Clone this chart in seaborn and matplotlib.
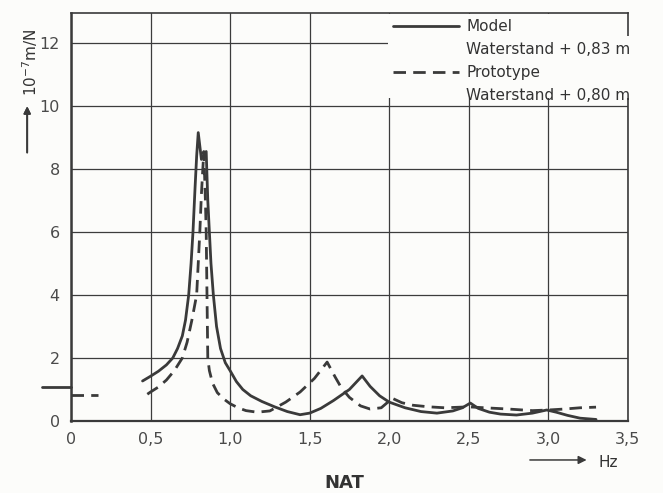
"""
Frequentiekarakteristiek model vs prototype (NAT).
"""

import numpy as np
import matplotlib.pyplot as plt
from matplotlib.lines import Line2D
from matplotlib.patches import Rectangle
import seaborn as sns

# --- data ---
model_f = [0.45, 0.50, 0.55, 0.60, 0.64, 0.67, 0.70, 0.72, 0.74, 0.755, 0.767,
           0.78, 0.79, 0.80, 0.82, 0.85, 0.86, 0.87, 0.88, 0.895, 0.915, 0.94,
           0.97, 1.00, 1.04, 1.08, 1.13, 1.20, 1.28, 1.36, 1.44, 1.50, 1.57,
           1.65, 1.75, 1.83, 1.88, 1.94, 2.00, 2.10, 2.20, 2.30, 2.40, 2.46,
           2.51, 2.56, 2.63, 2.70, 2.80, 2.90, 2.99, 3.05, 3.12, 3.20, 3.30]
model_r = [1.27, 1.42, 1.58, 1.78, 2.00, 2.30, 2.70, 3.20, 4.00, 5.00, 6.00,
           7.40, 8.40, 9.15, 8.30, 8.55, 7.00, 6.00, 5.00, 4.00, 3.00, 2.30,
           1.85, 1.60, 1.25, 1.00, 0.80, 0.62, 0.45, 0.30, 0.20, 0.25, 0.40,
           0.65, 1.00, 1.43, 1.10, 0.80, 0.60, 0.42, 0.30, 0.25, 0.32, 0.42,
           0.57, 0.40, 0.28, 0.22, 0.19, 0.25, 0.35, 0.28, 0.18, 0.09, 0.05]

proto_f = [0.48, 0.50, 0.55, 0.60, 0.65, 0.70, 0.73, 0.76, 0.79, 0.80, 0.81,
           0.82, 0.835, 0.845, 0.85, 0.855, 0.86, 0.87, 0.89, 0.92, 0.96, 1.00,
           1.05, 1.10, 1.17, 1.25, 1.35, 1.44, 1.53, 1.61, 1.66, 1.70, 1.75,
           1.82, 1.88, 1.95, 2.02, 2.08, 2.15, 2.25, 2.35, 2.50, 2.60, 2.75,
           2.90, 3.00, 3.10, 3.20, 3.30]
proto_r = [0.85, 0.92, 1.08, 1.30, 1.60, 2.00, 2.50, 3.20, 4.00, 5.00, 6.00,
           7.20, 8.55, 7.00, 6.00, 4.00, 2.00, 1.60, 1.20, 0.90, 0.70, 0.55,
           0.42, 0.33, 0.28, 0.32, 0.60, 0.92, 1.35, 1.87, 1.40, 1.05, 0.75,
           0.48, 0.38, 0.42, 0.72, 0.58, 0.50, 0.45, 0.42, 0.45, 0.42, 0.38,
           0.33, 0.35, 0.38, 0.42, 0.44]

# statische waarden links van de as
static_model_f = [-0.18, 0.0]
static_model_r = [1.08, 1.08]
static_proto_f = [0.0, 0.17]
static_proto_r = [0.83, 0.83]

x_ticks = [0, 0.5, 1.0, 1.5, 2.0, 2.5, 3.0, 3.5]
x_labels = ["0", "0,5", "1,0", "1,5", "2,0", "2,5", "3,0", "3,5"]
y_ticks = [0, 2, 4, 6, 8, 10, 12]

ink = "#3a3a3a"
paper = "#fcfcfa"

sns.set_style("white")
plt.rcParams["font.family"] = ["DejaVu Sans"]

fig = plt.figure(figsize=(6.63, 4.93), dpi=100, facecolor=paper)
ax = fig.add_axes([0.107, 0.146, 0.840, 0.828], facecolor=paper)

dash = (4.5, 2.6)
lw = 2.0
sns.lineplot(x=model_f, y=model_r, ax=ax, color=ink, lw=lw, sort=False,
             estimator=None, solid_joinstyle="round")
sns.lineplot(x=proto_f, y=proto_r, ax=ax, color=ink, lw=lw, sort=False,
             estimator=None)
ax.lines[-1].set_dashes(dash)

sns.lineplot(x=static_model_f, y=static_model_r, ax=ax, color=ink, lw=lw,
             estimator=None)
ax.lines[-1].set_clip_on(False)
sns.lineplot(x=static_proto_f, y=static_proto_r, ax=ax, color=ink, lw=lw,
             estimator=None)
ax.lines[-1].set_dashes(dash)
ax.lines[-1].set_clip_on(False)

ax.set_xlim(0, 3.5)
ax.set_ylim(0, 12.95)
ax.set_xticks(x_ticks)
ax.set_xticklabels(x_labels)
ax.set_yticks(y_ticks)
ax.tick_params(length=0, labelsize=11.5, colors="#4a4a4a", pad=8)
ax.set_axisbelow(True)
ax.grid(True, color="#3c3c3c", lw=0.9)
for s in ax.spines.values():
    s.set_color(ink)
    s.set_linewidth(1.2)
    s.set_zorder(2.5)
ax.spines["left"].set_linewidth(1.8)
ax.spines["bottom"].set_linewidth(1.6)

# vrije ruimte voor de legenda
ax.add_patch(Rectangle((1.994, 10.25), 1.506, 2.66, facecolor=paper,
                       edgecolor="none", zorder=1))
ax.add_patch(Rectangle((3.45, 10.25), 0.2, 1.95, facecolor=paper,
                       edgecolor="none", zorder=3, clip_on=False))

handles = [Line2D([], [], color=ink, lw=lw),
           Line2D([], [], color="none"),
           Line2D([], [], color=ink, lw=lw, dashes=dash),
           Line2D([], [], color="none")]
labels = ["Model", "Waterstand + 0,83 m", "Prototype", "Waterstand + 0,80 m"]
leg = ax.legend(handles, labels, loc="upper left", bbox_to_anchor=(0.578, 0.985),
                frameon=False, fontsize=11, handlelength=4.3, handletextpad=0.5,
                labelspacing=0.53, borderpad=0, borderaxespad=0)
for t in leg.get_texts():
    t.set_color("#333333")
leg.set_zorder(4)

# y-as titel met pijl
fig.text(0.045, 0.874, r"10$^{-7}$m/N", rotation=90, ha="center", va="center",
         fontsize=11, color="#333333")
fig.add_artist(plt.annotate("", xy=(0.041, 0.79), xytext=(0.041, 0.685),
                            xycoords="figure fraction",
                            arrowprops=dict(arrowstyle="-|>", color=ink, lw=1.3,
                                            mutation_scale=10)))

# x-as eenheid met pijl
ax.annotate("", xy=(0.889, 0.067), xytext=(0.795, 0.067),
            xycoords="figure fraction",
            arrowprops=dict(arrowstyle="-|>", color=ink, lw=1.1,
                            mutation_scale=12))
fig.text(0.917, 0.061, "Hz", ha="center", va="center", fontsize=11,
         color="#333333")

fig.text(0.52, 0.02, "NAT", ha="center", va="center", fontsize=13,
         fontweight="bold", color="#333333")

plt.savefig("out.png", dpi=100, facecolor=paper)
plt.close()
